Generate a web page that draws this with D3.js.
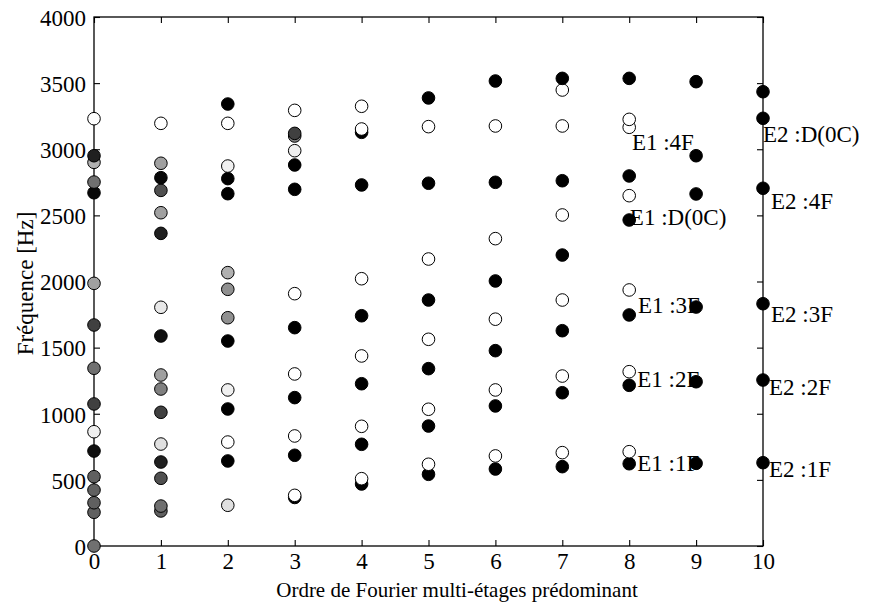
<!DOCTYPE html>
<html>
<head>
<meta charset="utf-8">
<script src="https://cdn.jsdelivr.net/npm/d3@7"></script>
<style>
  html, body { margin: 0; padding: 0; background: #fff; }
  svg { display: block; }
  text { font-family: "Liberation Serif", "Times New Roman", serif; fill: #000; }
</style>
</head>
<body>
<svg id="chart" width="869" height="609"></svg>
<script>
// ---------- data ----------
const xTicks = [0, 1, 2, 3, 4, 5, 6, 7, 8, 9, 10];
const yTicks = [0, 500, 1000, 1500, 2000, 2500, 3000, 3500, 4000];
const xTitle = "Ordre de Fourier multi-étages prédominant";
const yTitle = "Fréquence [Hz]";

// frequencies (Hz) per predominant Fourier order, and grey level of each marker (0 = black, 255 = white)
const freq0  = [0, 255, 327, 423, 524, 718, 864, 1074, 1344, 1671, 1986, 2671, 2752, 2901, 2951, 3231];
const level0 = [112, 96, 96, 96, 96, 16, 240, 64, 112, 64, 160, 8, 112, 176, 32, 255];
const freq1  = [265, 302, 512, 635, 771, 1011, 1187, 1293, 1588, 1805, 2364, 2520, 2689, 2785, 2894, 3196];
const level1 = [96, 112, 80, 32, 224, 64, 128, 160, 16, 232, 32, 160, 80, 8, 160, 255];
const freq2  = [308, 643, 786, 1036, 1180, 1550, 1726, 1941, 2067, 2664, 2778, 2873, 3196, 3342];
const level2 = [224, 0, 255, 0, 240, 0, 144, 144, 176, 0, 0, 240, 255, 0];
const freq3  = [367, 383, 686, 832, 1122, 1301, 1651, 1908, 2697, 2881, 2989, 3100, 3120, 3294];
const level3 = [0, 255, 0, 255, 0, 255, 0, 255, 0, 0, 240, 128, 64, 255];
const freq4  = [469, 509, 769, 905, 1227, 1437, 1741, 2021, 2730, 3128, 3153, 3325];
const level4 = [0, 255, 0, 255, 0, 255, 0, 255, 0, 0, 255, 255];
const freq5  = [542, 618, 907, 1034, 1341, 1563, 1860, 2170, 2743, 3171, 3388];
const level5 = [0, 255, 0, 255, 0, 255, 0, 255, 0, 255, 0];
const freq6  = [582, 681, 1059, 1180, 1477, 1715, 2004, 2324, 2750, 3176, 3516];
const level6 = [0, 255, 0, 255, 0, 255, 0, 255, 0, 255, 0];
const freq7  = [600, 706, 1159, 1285, 1628, 1860, 2200, 2503, 2762, 3176, 3448, 3536];
const level7 = [0, 255, 0, 255, 0, 255, 0, 255, 0, 255, 255, 0];
const freq8  = [622, 713, 1215, 1318, 1747, 1936, 2465, 2649, 2798, 3166, 3226, 3536];
const level8 = [0, 255, 0, 255, 0, 255, 0, 255, 0, 255, 255, 0];
const freq9  = [625, 1242, 1807, 2662, 2951, 3511];
const level9 = [0, 0, 0, 0, 0, 0];
const freq10  = [630, 1255, 1832, 2705, 3234, 3435];
const level10 = [0, 0, 0, 0, 0, 0];

const freqs  = [freq0, freq1, freq2, freq3, freq4, freq5, freq6, freq7, freq8, freq9, freq10];
const levels = [level0, level1, level2, level3, level4, level5, level6, level7, level8, level9, level10];

// mode annotations: text and anchor in data units (order, Hz)
const annText = ["E1 :4F", "E1 :D(0C)", "E1 :3F", "E1 :2F", "E1 :1F",
                 "E2 :D(0C)", "E2 :4F", "E2 :3F", "E2 :2F", "E2 :1F"];
const annX = [8.04, 8.01, 8.13, 8.12, 8.12, 10.0, 10.12, 10.12, 10.09, 10.09];
const annY = [2994, 2427, 1762, 1202, 567, 3055, 2548, 1694, 1142, 522];

// ---------- layout ----------
const svg = d3.select("#chart");
const mLeft = 94, mRight = 763, mTop = 17, mBottom = 546;
const FS = 23;

const x = d3.scaleLinear().domain([0, 10]).range([mLeft, mRight]);
const y = d3.scaleLinear().domain([0, 4000]).range([mBottom, mTop]);
const grey = d3.scaleLinear().domain([0, 255]).range(["#000000", "#ffffff"]);

// box
svg.append("rect")
  .attr("x", mLeft).attr("y", mTop)
  .attr("width", mRight - mLeft).attr("height", mBottom - mTop)
  .attr("fill", "none").attr("stroke", "#000").attr("stroke-width", 1.3);

// axes with inward ticks
const gB = svg.append("g").attr("transform", `translate(0,${mBottom})`)
  .call(d3.axisBottom(x).tickValues(xTicks).tickSizeInner(-6).tickSizeOuter(0).tickPadding(14).tickFormat(d3.format("d")));
const gT = svg.append("g").attr("transform", `translate(0,${mTop})`)
  .call(d3.axisTop(x).tickValues(xTicks).tickSizeInner(-6).tickSizeOuter(0).tickFormat(""));
const gL = svg.append("g").attr("transform", `translate(${mLeft},0)`)
  .call(d3.axisLeft(y).tickValues(yTicks).tickSizeInner(-6).tickSizeOuter(0).tickPadding(14).tickFormat(d3.format("d")));
const gR = svg.append("g").attr("transform", `translate(${mRight},0)`)
  .call(d3.axisRight(y).tickValues(yTicks).tickSizeInner(-6).tickSizeOuter(0).tickFormat(""));

[gB, gT, gL, gR].forEach(g => {
  g.select(".domain").remove();
  g.selectAll(".tick line").attr("stroke", "#000").attr("stroke-width", 1.1);
  g.selectAll(".tick text")
    .style("font-family", '"Liberation Serif", serif')
    .style("font-size", FS + "px")
    .attr("fill", "#000");
});
gB.selectAll(".tick text").attr("dy", "0.71em").attr("y", 7);
gL.selectAll(".tick text").attr("x", -8).attr("dy", "0.36em");

// titles
svg.append("text")
  .attr("x", 457).attr("y", 597)
  .attr("text-anchor", "middle")
  .style("font-size", "21px")
  .text(xTitle);
svg.append("text")
  .attr("transform", `translate(33,${(mTop + mBottom) / 2 + 2}) rotate(-90)`)
  .attr("text-anchor", "middle")
  .style("font-size", FS + "px")
  .text(yTitle);

// annotations (below markers)
svg.append("g").selectAll("text")
  .data(annText)
  .join("text")
  .attr("x", (d, i) => x(annX[i]))
  .attr("y", (d, i) => y(annY[i]))
  .style("font-size", FS + "px")
  .text(d => d);

// markers
const points = [];
freqs.forEach((arr, k) => arr.forEach((f, j) => points.push({ order: xTicks[k], f, level: levels[k][j] })));
points.sort((a, b) => a.order - b.order || a.f - b.f);

svg.append("g").selectAll("circle")
  .data(points)
  .join("circle")
  .attr("cx", d => x(d.order))
  .attr("cy", d => y(d.f))
  .attr("r", 6.3)
  .attr("fill", d => grey(d.level))
  .attr("stroke", "#000")
  .attr("stroke-width", 1);
</script>
</body>
</html>
